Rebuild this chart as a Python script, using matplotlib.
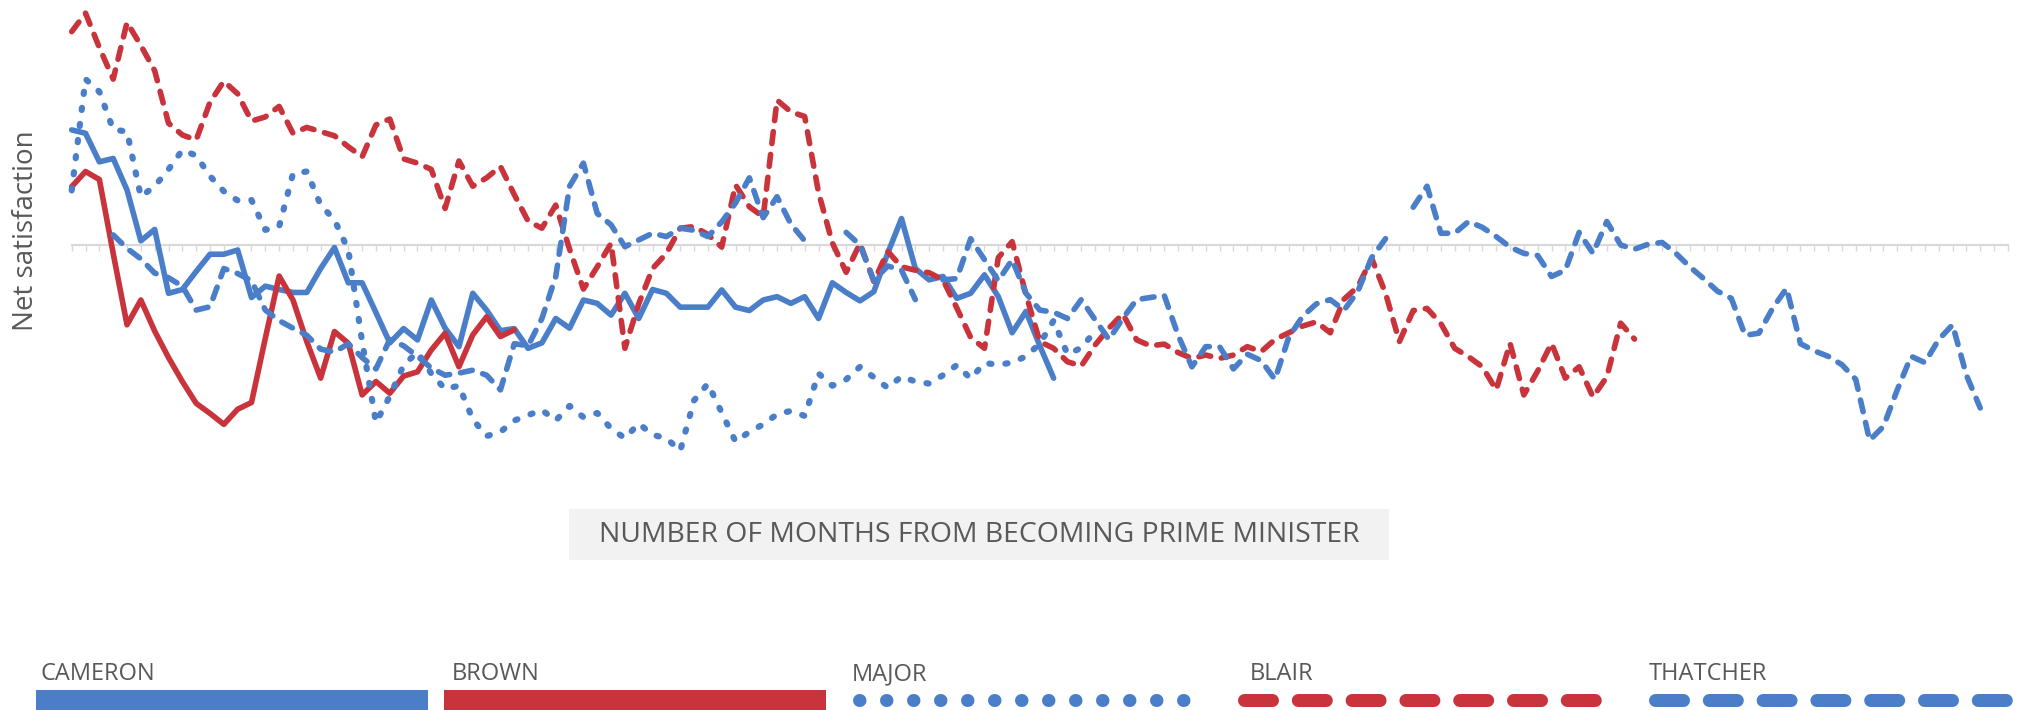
import numpy as np
import matplotlib
matplotlib.use("Agg")
from matplotlib import pyplot as plt
from matplotlib.patches import Rectangle
from matplotlib.lines import Line2D

plt.rcParams['font.family'] = ['Open Sans', 'DejaVu Sans']
plt.rcParams['lines.scale_dashes'] = False

nan = np.nan

# net satisfaction by month since taking office
cameron = [27.4, 26.6, 19.8, 20.6, 13.1, 1.0, 3.7, -11.5, -10.6, -6.3,
           -2.2, -2.2, -1.2, -12.5, -9.8, -10.6, -11.3, -11.3, -5.6, -0.6,
           -9.0, -9.0, -16.1, -23.3, -19.9, -22.6, -13.1, -19.8, -24.2, -11.5,
           -15.5, -20.4, -19.9, -24.6, -23.3, -17.5, -19.8, -13.1, -13.9, -16.7,
           -11.5, -17.5, -10.6, -11.5, -14.8, -14.8, -14.8, -10.7, -14.8, -15.6,
           -13.1, -12.3, -13.9, -12.3, -17.5, -9.0, -11.3, -13.3, -11.1, -2.0,
           6.3, -5.6, -8.3, -7.5, -12.7, -11.5, -7.1, -12.3, -20.9, -15.8,
           -24.0, -31.7]

brown = [13.9, 17.5, 15.6, -2.0, -19.0, -13.1, -20.5, -26.8, -32.5, -37.7,
         -40.1, -42.7, -39.1, -37.5, -22.2, -7.4, -13.1, -23.0, -31.7, -20.6,
         -23.4, -35.7, -32.5, -35.3, -31.2, -30.2, -25.0, -21.0, -29.0, -21.4,
         -17.1, -21.8, -20.2]

major = [13.0, 39.5, 36.5, 27.5, 27.0, 11.5, 14.0, 18.0, 22.6, 21.3,
         16.4, 12.8, 10.6, 10.7, 3.6, 4.4, 17.0, 17.5, 9.5, 6.0,
         -1.2, -23.0, -42.3, -36.0, -28.6, -25.5, -30.6, -34.3, -33.5, -41.5,
         -45.5, -44.5, -41.8, -40.5, -39.3, -41.8, -38.3, -41.0, -40.0, -43.7,
         -46.0, -42.5, -45.2, -46.0, -49.0, -37.0, -33.0, -39.9, -46.8, -44.5,
         -42.7, -40.3, -39.5, -40.7, -30.6, -33.5, -32.0, -29.0, -31.5, -34.0,
         -31.3, -32.5, -33.0, -31.0, -28.6, -31.8, -28.1, -28.5, -28.0, -26.5,
         -23.5, -18.0, -26.0, -24.5, -20.5]

blair = [50.8, 55.2, 47.0, 39.5, 53.0, 47.5, 41.5, 29.0, 26.2, 25.0,
         34.0, 39.0, 36.0, 29.5, 30.5, 33.0, 26.6, 28.0, 27.0, 26.0,
         23.4, 21.0, 28.6, 30.0, 20.5, 19.5, 18.0, 8.7, 20.0, 14.0,
         16.0, 18.7, 12.0, 5.7, 4.0, 9.5, -1.0, -10.5, -5.2, 0.4,
         -24.6, -14.0, -5.6, -2.0, 4.0, 4.4, 2.5, -0.5, 14.3, 9.1,
         6.7, 34.5, 31.7, 30.6, 12.5, 0.5, -6.5, 0.4, -8.7, -1.5,
         -5.2, -6.0, -6.6, -8.3, -15.0, -22.0, -24.6, -3.0, 0.8, -11.8,
         -23.0, -24.6, -27.8, -28.8, -23.8, -19.8, -16.4, -22.6, -24.0, -23.6,
         -25.6, -27.0, -26.2, -27.0, -26.2, -24.2, -25.4, -22.5, -20.9, -19.3,
         -18.3, -20.9, -12.9, -9.9, -3.2, -11.5, -23.0, -15.6, -15.1, -18.7,
         -24.6, -26.6, -29.0, -34.5, -23.4, -35.7, -30.0, -23.4, -31.7, -29.0,
         -36.2, -31.4, -18.6, -22.4]

thatcher = [nan, nan, nan, 2.4, -0.8, -3.3, -6.7, -7.8, -9.8, -15.5,
            -14.7, -5.6, -6.8, -8.5, -15.5, -18.0, -19.8, -21.5, -24.8, -25.5,
            -23.5, -26.8, -29.5, -22.5, -24.0, -26.5, -29.3, -31.0, -30.5, -29.8,
            -31.0, -34.5, -23.5, -24.0, -17.5, -7.5, 14.0, 19.5, 7.5, 4.8,
            -0.4, 1.2, 2.8, 2.0, 4.0, 3.5, 2.0, 5.5, 10.0, 16.0,
            6.5, 11.5, 5.0, 1.0, nan, nan, 3.0, 0.0, -8.5, -5.0,
            -6.0, -13.0, nan, -8.3, -8.0, 1.5, -3.5, -8.5, -3.5, -11.5,
            -15.5, -16.0, -17.5, -13.0, -17.8, -22.5, -17.5, -13.0, -12.5, -12.0,
            -21.5, -29.0, -24.2, -24.2, -29.5, -26.0, -27.5, -32.0, -22.0, -17.0,
            -14.0, -13.0, -15.5, -11.0, -3.0, 1.5, nan, 9.0, 14.0, 2.8,
            2.8, 5.6, 4.2, 2.0, -0.5, -2.0, -2.5, -7.5, -6.0, 3.0,
            -2.0, 5.6, 0.0, -1.0, 0.2, 0.6, -2.0, -5.2, -8.0, -11.0,
            -12.7, -21.5, -21.0, -15.0, -10.3, -23.5, -25.2, -26.5, -28.5, -32.0,
            -46.5, -43.2, -34.5, -26.5, -28.0, -22.5, -19.0, -31.0, -38.8]

names = ['CAMERON', 'BROWN', 'MAJOR', 'BLAIR', 'THATCHER']
n_months = 140

BLUE = '#4A7EC9'
RED = '#C9343C'
GREY = '#595959'

W, H = 2018, 710
PX = 72 / 100  # points per pixel

fig = plt.figure(figsize=(W / 100, H / 100), dpi=100)

x0, step = 71.7, 13.83
x1 = x0 + step * n_months
ax = fig.add_axes([x0 / W, 1 - 480 / H, (x1 - x0) / W, 480 / H])
ax.set_xlim(0, n_months)
ax.set_ylim(-235 / 4.2, 245 / 4.2)

lw = 5.6 * PX
dash = (0, (12 * PX, 11 * PX))
dot = (0, (2.2 * PX, 14.0 * PX))

styles = [
    (cameron, BLUE, '-', lw),
    (brown, RED, '-', lw),
    (major, BLUE, dot, 6.2 * PX),
    (blair, RED, dash, lw),
    (thatcher, BLUE, dash, lw),
]
for vals, col, ls, w in styles:
    ax.plot(np.arange(len(vals)), vals, color=col, lw=w, ls=ls,
            solid_capstyle='round', dash_capstyle='round',
            solid_joinstyle='round', dash_joinstyle='round', clip_on=False)

for s in ['top', 'right', 'left']:
    ax.spines[s].set_visible(False)
ax.spines['bottom'].set_position(('data', 0))
ax.spines['bottom'].set_color('#d9d9d9')
ax.spines['bottom'].set_linewidth(2.2 * PX)
ax.spines['bottom'].set_zorder(0.5)
ax.set_xticks(np.arange(0, n_months + 1))
ax.tick_params(axis='x', direction='out', length=5.5 * PX, width=1.4 * PX,
               color='#d9d9d9', labelbottom=False)
ax.set_yticks([])
ax.patch.set_alpha(0)

fig.text(26 / W, 1 - 231 / H, 'Net satisfaction', rotation=90,
         ha='center', va='center', fontsize=20, color=GREY)

# overlay in pixel units for the axis title box and the legend
ov = fig.add_axes([0, 0, 1, 1])
ov.set_xlim(0, W)
ov.set_ylim(H, 0)
ov.axis('off')
ov.patch.set_alpha(0)

ov.add_patch(Rectangle((569, 509), 820, 51, fc='#f2f2f2', ec='none'))
ov.text(979, 535, 'NUMBER OF MONTHS FROM BECOMING PRIME MINISTER',
        ha='center', va='center', fontsize=20.4, color=GREY)

label_x = [41, 452, 852, 1250, 1649]
for name, lx in zip(names, label_x):
    ov.text(lx, 680, name, ha='left', va='baseline', fontsize=17, color=GREY)

ov.add_line(Line2D([36, 428], [700, 700], color=BLUE, lw=20 * PX,
                   solid_capstyle='butt'))
ov.add_line(Line2D([444, 826], [700, 700], color=RED, lw=20 * PX,
                   solid_capstyle='butt'))
ov.add_line(Line2D([858.5, 1210], [700, 700], color=BLUE, lw=13 * PX,
                   ls=(0, (0.5 * PX, 26.5 * PX)), dash_capstyle='round'))
ov.add_line(Line2D([1243.5, 1600], [700, 700], color=RED, lw=13 * PX,
                   ls=(0, (28 * PX, 25.8 * PX)), dash_capstyle='round'))
ov.add_line(Line2D([1654.5, 2018], [700, 700], color=BLUE, lw=13 * PX,
                   ls=(0, (28 * PX, 25.8 * PX)), dash_capstyle='round'))

fig.savefig('out.png', dpi=100)
